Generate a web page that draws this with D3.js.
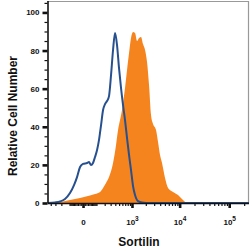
<!DOCTYPE html>
<html><head><meta charset="utf-8">
<script src="https://cdn.jsdelivr.net/npm/d3@7"></script>
<style>
body{margin:0;background:#fff}
svg{display:block}
text{font-family:"Liberation Sans",Arial,sans-serif;font-weight:bold;fill:#111}
</style>
</head><body>
<svg id="chart" width="250" height="251"></svg>
<script>
// Isotype control (blue outline)
const isotypeX = [-470,-308,-220,-151,-96,-60,-37,-17,0,24,37,52,68,86,106,127,151,177,205,236,270,308,349,394,443,497,557,622,693,772,858,952,1056,1169,1360,1661,2457,250000];
const isotypeY = [0,0.3,0.8,2.1,5.2,9.4,13.6,18.9,20.5,21.0,21.5,19.9,21.0,24.1,27.8,33.1,40.9,48.8,51.9,53.5,56.1,67.2,80.3,89.2,82.9,70.8,60.3,51.4,43.5,34.1,25.2,17.3,8.9,4.2,1.0,0.3,0,0];
// Sortilin antibody (orange filled)
const sortilinX = [-470,-308,-177,-96,-17,44,86,139,177,220,270,349,418,470,526,588,693,772,858,952,1056,1169,1294,1430,1581,1745,1926,2123,2340,2578,2840,3279,3608,3968,4364,5031,5798,7338,9277,11716,13480,16240,250000];
const sortilinY = [0,0.3,0.8,1.6,2.6,3.9,4.7,5.8,7.9,10.5,13.6,21.0,30.4,38.3,43.5,48.8,60.3,69.8,78.7,86.6,89.7,89.2,85.0,86.6,87.1,83.4,80.3,74.0,61.9,46.2,41.4,38.3,32.0,25.2,21.0,13.1,7.9,5.8,4.2,1.6,0.3,0,0];

const yMajorTicks = [0,20,40,60,80,100];
const yMinorTicks = [5,10,15,25,30,35,45,50,55,65,70,75,85,90,95,105];
const xMajorTicks = [0,1000,10000,100000];
const xTickBase = ["0","10","10","10"];
const xTickExp = ["","3","4","5"];
const xMinorTicks = [-400,-300,-200,-100,-90,-80,-70,-60,-50,-40,-30,-20,-10,
  10,20,30,40,50,60,70,80,90,100,200,300,400,500,600,700,800,900,
  2000,3000,4000,5000,6000,7000,8000,9000,
  20000,30000,40000,50000,60000,70000,80000,90000,
  200000];
const xTitle = "Sortilin";
const yTitle = "Relative Cell Number";

const svg = d3.select("#chart");
const L = 47.5, R = 249, T = 1, B = 203;

const x = d3.scaleSymlog().constant(116).domain([-470, 250000]).range([48, 249]);
const y = d3.scaleLinear().domain([0, 106]).range([B, T]);

svg.append("defs").append("clipPath").attr("id","clip")
  .append("rect").attr("x",L).attr("y",T).attr("width",R-L).attr("height",B-T);

// frame (top/right gray)
svg.append("path").attr("d",`M${L},${T+0.5}H${R-0.5}V${B}`)
  .attr("fill","none").attr("stroke","#999").attr("stroke-width",1.2);

const sortData = sortilinX.map((v,i)=>[v, sortilinY[i]]);
const isoData = isotypeX.map((v,i)=>[v, isotypeY[i]]);

const g = svg.append("g").attr("clip-path","url(#clip)");
g.append("path").datum(sortData)
  .attr("d", d3.area().x(d=>x(d[0])).y0(y(0)).y1(d=>y(d[1])).curve(d3.curveMonotoneX))
  .attr("fill","#f5841f");
g.append("path").datum(isoData)
  .attr("d", d3.line().x(d=>x(d[0])).y(d=>y(d[1])).curve(d3.curveMonotoneX))
  .attr("fill","none").attr("stroke","#27508f").attr("stroke-width",2).attr("stroke-linejoin","round");

// Y axis
const yMinor = svg.append("g").attr("transform",`translate(${L},0)`)
  .call(d3.axisLeft(y).tickValues(yMinorTicks).tickSize(3).tickFormat(""));
yMinor.select(".domain").remove();
yMinor.selectAll("line").attr("stroke","#111").attr("stroke-width",1.2);
const yMajor = svg.append("g").attr("transform",`translate(${L},0)`)
  .call(d3.axisLeft(y).tickValues(yMajorTicks).tickSize(5).tickPadding(3).tickFormat(d3.format("d")));
yMajor.select(".domain").attr("stroke","#111").attr("stroke-width",1.6).attr("d",`M0.5,${T}V${B}`);
yMajor.selectAll("line").attr("stroke","#111").attr("stroke-width",2.6);
yMajor.selectAll("text").attr("font-size",8).style("font-family","'Liberation Sans',Arial,sans-serif").style("font-weight","bold").attr("fill","#111");

// X axis
const xMinor = svg.append("g").attr("transform",`translate(0,${B})`)
  .call(d3.axisBottom(x).tickValues(xMinorTicks).tickSize(3).tickFormat(""));
xMinor.select(".domain").remove();
xMinor.selectAll("line").attr("stroke","#111").attr("stroke-width",1.2);
const xMajor = svg.append("g").attr("transform",`translate(0,${B})`)
  .call(d3.axisBottom(x).tickValues(xMajorTicks).tickSize(5).tickFormat(""));
xMajor.select(".domain").attr("stroke","#111").attr("stroke-width",1.6).attr("d",`M${L},0.5H${R}`);
xMajor.selectAll("line").attr("stroke","#111").attr("stroke-width",2.6);
xMajor.selectAll(".tick").each(function(d,i){
  const t = d3.select(this).append("text").attr("y",22).attr("text-anchor","middle")
    .attr("font-size",8).attr("fill","#111");
  t.append("tspan").text(xTickBase[i]);
  if (xTickExp[i]) t.append("tspan").attr("dy",-4).attr("font-size",6.5).text(xTickExp[i]);
});

// Titles
svg.append("text").attr("x",139).attr("y",246).attr("text-anchor","middle")
  .attr("font-size",12).text(xTitle);
svg.append("text").attr("transform","translate(17,116) rotate(-90)").attr("text-anchor","middle")
  .attr("font-size",12).text(yTitle);
</script>
</body></html>
